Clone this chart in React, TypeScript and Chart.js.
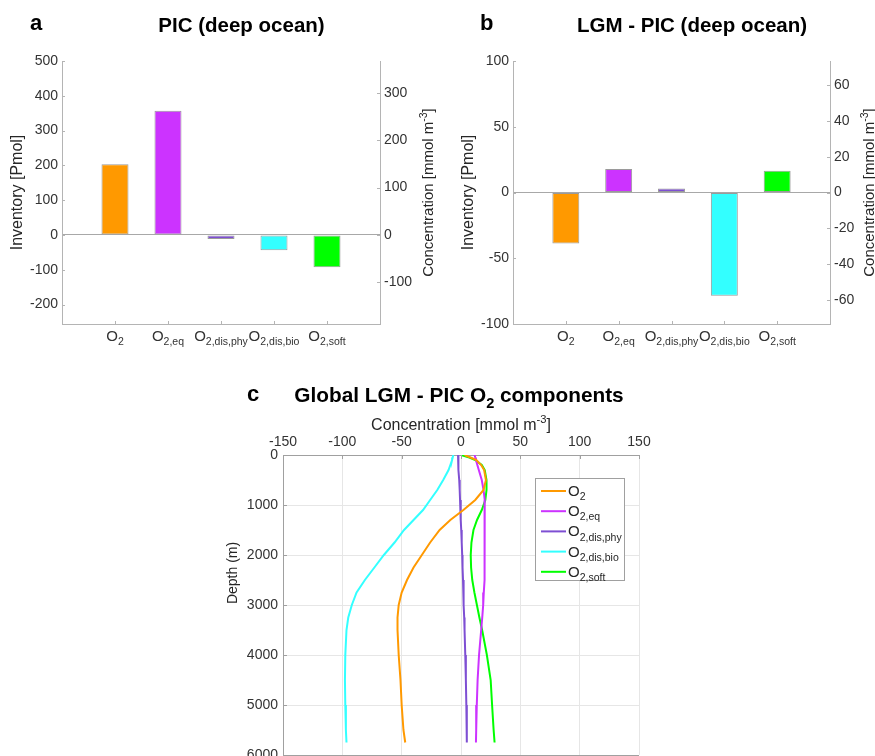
import React, { useEffect, useRef } from 'react';
import { Chart, registerables } from 'chart.js';

Chart.register(...registerables);

const FONT = '"Liberation Sans", Arial, Helvetica, sans-serif';
const TEXT = '#262626';
const TICK_TEXT = '#333333';
const AXIS = '#b4b4b4';
const GRID = '#e6e6e6';
const BOX = '#a0a0a0';

// ---------- Panels a & b : deep-ocean O2 components ----------
const componentNames = ['O2', 'O2,eq', 'O2,dis,phy', 'O2,dis,bio', 'O2,soft'];
const componentSubscripts = ['2', '2,eq', '2,dis,phy', '2,dis,bio', '2,soft'];
const componentColors = ['#FF9900', '#CC33FF', '#7E4FD3', '#33FFFF', '#00FF00'];
const picInventory = [203, 357, -12, -44, -93]; // Pmol
const lgmMinusPicInventory = [-38.8, 17.8, 3.0, -78.5, 16.5]; // Pmol
const pmolPerConcentration = 1.363; // Pmol per mmol m-3 (deep ocean volume)
const picInventoryLimits = [-256, 500];
const lgmInventoryLimits = [-100, 100];
const picTickSteps = [100, 100]; // inventory, concentration
const lgmTickSteps = [50, 20];

// ---------- Panel c : global LGM - PIC O2 component profiles ----------
const depthLevels = [0, 50, 100, 200, 300, 500, 700, 900, 1100, 1300, 1500, 1750, 2000, 2250, 2500, 2750, 3000, 3250, 3500, 4000, 4500, 5000, 5500, 5750];
const o2Total = [3, 8, 13, 17, 19.5, 21, 19, 12, 2, -9, -18, -26, -33, -40, -45.5, -50, -52.5, -53.5, -53.5, -52.5, -51, -50, -48.5, -47];
const o2Eq = [11.5, 12, 12.6, 13.8, 15, 17.5, 19, 20, 20, 20, 20, 20, 19.8, 19.7, 19.5, 19.2, 18.7, 17.9, 17, 15.2, 14, 13.3, 12.8, 12.6];
const o2DisPhy = [-2.5, -2.4, -2.3, -2.1, -1.9, -1.5, -1.1, -0.8, -0.4, -0.1, 0.2, 0.6, 1.0, 1.3, 1.7, 2.0, 2.4, 2.7, 3.0, 3.6, 4.1, 4.5, 4.8, 5.0];
const o2DisBio = [-6.5, -7, -7.5, -9, -10.5, -15, -20, -26, -32, -40, -48, -56, -65, -73, -81, -88, -92, -95, -96.5, -97.5, -97.8, -97.5, -97, -96.5];
const o2Soft = [0, 7, 12, 17.5, 20, 21.5, 21.5, 20.5, 17.5, 13.5, 10.5, 8.8, 8.2, 8.5, 9.5, 11.3, 13.4, 15.5, 17.8, 21.8, 25, 26.2, 27.5, 28.3];
const concentrationLimits = [-150, 150];
const concentrationStep = 50;
const depthLimits = [0, 6000];
const depthStep = 1000;

type Seg = { t: string; k?: 'sub' | 'sup' };
type RichOpts = { weight?: string; color?: string; align?: 'left' | 'center' | 'right'; rotate?: number };

function segSize(size: number, s: Seg) {
  return s.k ? size * 0.7 : size;
}

function drawRich(ctx: CanvasRenderingContext2D, segs: Seg[], x: number, y: number, size: number, o: RichOpts = {}) {
  const weight = o.weight || 'normal';
  ctx.save();
  ctx.translate(x, y);
  if (o.rotate) ctx.rotate(o.rotate);
  let w = 0;
  for (const s of segs) {
    ctx.font = `${weight} ${segSize(size, s)}px ${FONT}`;
    w += ctx.measureText(s.t).width;
  }
  let cx = o.align === 'center' ? -w / 2 : o.align === 'right' ? -w : 0;
  ctx.fillStyle = o.color || TEXT;
  ctx.textAlign = 'left';
  ctx.textBaseline = 'alphabetic';
  for (const s of segs) {
    ctx.font = `${weight} ${segSize(size, s)}px ${FONT}`;
    const dy = s.k === 'sub' ? size * 0.28 : s.k === 'sup' ? -size * 0.42 : 0;
    ctx.fillText(s.t, cx, dy);
    cx += ctx.measureText(s.t).width;
  }
  ctx.restore();
}

const concTitle: Seg[] = [{ t: 'Concentration [mmol m' }, { t: '-3', k: 'sup' }, { t: ']' }];

type BarLayout = {
  letter: string;
  letterX: number;
  title: string;
  titleX: number;
  leftTitleX: number;
  rightTitleX: number;
  leftWidth: number;
  rightWidth: number;
};

function barConfig(values: number[], limits: number[], steps: number[], lay: BarLayout): any {
  const labels = ['', ...componentNames, ''];
  const tickFont = { family: FONT, size: 14 };
  return {
    type: 'bar',
    data: {
      labels,
      datasets: [
        {
          data: [null, ...values, null],
          backgroundColor: ['rgba(0,0,0,0)', ...componentColors, 'rgba(0,0,0,0)'],
          borderColor: '#9a9a9a',
          borderWidth: 1,
          borderSkipped: false,
          categoryPercentage: 1,
          barPercentage: 0.51,
        },
      ],
    },
    options: {
      responsive: false,
      animation: false,
      layout: { padding: { left: 0, right: 0, top: 61, bottom: 46 } },
      plugins: { legend: { display: false }, tooltip: { enabled: false } },
      scales: {
        x: {
          type: 'category',
          offset: false,
          ticks: { display: false },
          grid: { display: false, drawTicks: false },
          border: { display: true, color: AXIS },
          afterFit: (s: any) => {
            s.height = 0;
          },
        },
        y: {
          position: 'left',
          min: limits[0],
          max: limits[1],
          ticks: { stepSize: steps[0], includeBounds: false, font: tickFont, color: TICK_TEXT, padding: 4, callback: (v: any) => String(v) },
          grid: {
            drawTicks: false,
            color: (c: any) => (c.tick && c.tick.value === 0 ? '#a8a8a8' : 'rgba(0,0,0,0)'),
          },
          border: { display: true, color: AXIS },
          afterFit: (s: any) => {
            s.width = lay.leftWidth;
          },
        },
        y2: {
          position: 'right',
          min: limits[0] / pmolPerConcentration,
          max: limits[1] / pmolPerConcentration,
          ticks: { stepSize: steps[1], includeBounds: false, font: tickFont, color: TICK_TEXT, padding: 4, callback: (v: any) => String(v) },
          grid: { display: false, drawTicks: false },
          border: { display: true, color: AXIS },
          afterFit: (s: any) => {
            s.width = lay.rightWidth;
          },
        },
      },
    },
    plugins: [
      {
        id: 'barOverlay',
        afterDraw(chart: any) {
          const ctx: CanvasRenderingContext2D = chart.ctx;
          const { left, right, top, bottom } = chart.chartArea;
          const xs = chart.scales.x;
          const yl = chart.scales.y;
          const yr = chart.scales.y2;
          ctx.save();
          ctx.strokeStyle = AXIS;
          ctx.lineWidth = 1;
          ctx.beginPath();
          componentNames.forEach((_, i) => {
            const px = Math.round(xs.getPixelForValue(i + 1)) + 0.5;
            ctx.moveTo(px, bottom);
            ctx.lineTo(px, bottom - 3);
          });
          yl.ticks.forEach((t: any) => {
            const py = Math.round(yl.getPixelForValue(t.value)) + 0.5;
            ctx.moveTo(left, py);
            ctx.lineTo(left + 3, py);
          });
          yr.ticks.forEach((t: any) => {
            const py = Math.round(yr.getPixelForValue(t.value)) + 0.5;
            ctx.moveTo(right, py);
            ctx.lineTo(right - 3, py);
          });
          ctx.stroke();
          ctx.restore();

          componentSubscripts.forEach((sub, i) => {
            drawRich(ctx, [{ t: 'O' }, { t: sub, k: 'sub' }], xs.getPixelForValue(i + 1), bottom + 17, 15, { align: 'center', color: TICK_TEXT });
          });
          drawRich(ctx, [{ t: lay.letter }], lay.letterX, 30, 22, { weight: 'bold', color: '#000' });
          drawRich(ctx, [{ t: lay.title }], lay.titleX, 31.5, 20.5, { weight: 'bold', color: '#000', align: 'center' });
          const midY = (top + bottom) / 2;
          drawRich(ctx, [{ t: 'Inventory [Pmol]' }], lay.leftTitleX, midY, 16, { align: 'center', rotate: -Math.PI / 2 });
          drawRich(ctx, concTitle, lay.rightTitleX, midY, 15, { align: 'center', rotate: -Math.PI / 2 });
        },
      },
    ],
  };
}

function profileConfig(): any {
  const series = [o2Total, o2Eq, o2DisPhy, o2DisBio, o2Soft];
  const tickFont = { family: FONT, size: 14 };
  return {
    type: 'scatter',
    data: {
      datasets: series.map((vals, i) => ({
        label: componentNames[i],
        data: vals.map((v, j) => ({ x: v, y: depthLevels[j] })),
        showLine: true,
        borderColor: componentColors[i],
        backgroundColor: componentColors[i],
        borderWidth: 2,
        pointRadius: 0,
        tension: 0,
        fill: false,
      })),
    },
    options: {
      responsive: false,
      animation: false,
      layout: { padding: { left: 0, right: 16, top: 45, bottom: 45 } },
      plugins: { legend: { display: false }, tooltip: { enabled: false } },
      scales: {
        x: {
          type: 'linear',
          position: 'top',
          min: concentrationLimits[0],
          max: concentrationLimits[1],
          ticks: { stepSize: concentrationStep, font: tickFont, color: TICK_TEXT, padding: 4, callback: (v: any) => String(v) },
          grid: { drawTicks: false, color: (c: any) => (c.index === 0 ? BOX : GRID) },
          border: { display: true, color: BOX },
          afterFit: (s: any) => {
            s.height = 30;
          },
        },
        y: {
          type: 'linear',
          reverse: true,
          min: depthLimits[0],
          max: depthLimits[1],
          ticks: { stepSize: depthStep, font: tickFont, color: TICK_TEXT, padding: 5, callback: (v: any) => String(v) },
          grid: { drawTicks: false, color: (c: any) => (c.index === 0 ? BOX : GRID) },
          border: { display: true, color: BOX },
          afterFit: (s: any) => {
            s.width = 93;
          },
        },
      },
    },
    plugins: [
      {
        id: 'profileOverlay',
        afterDraw(chart: any) {
          const ctx: CanvasRenderingContext2D = chart.ctx;
          const { left, right, top } = chart.chartArea;
          const xs = chart.scales.x;
          const ys = chart.scales.y;
          ctx.save();
          ctx.strokeStyle = BOX;
          ctx.lineWidth = 1;
          ctx.beginPath();
          xs.ticks.forEach((t: any) => {
            const px = Math.round(xs.getPixelForValue(t.value)) + 0.5;
            ctx.moveTo(px, top);
            ctx.lineTo(px, top + 4);
          });
          ys.ticks.forEach((t: any) => {
            const py = Math.round(ys.getPixelForValue(t.value)) + 0.5;
            ctx.moveTo(left, py);
            ctx.lineTo(left + 4, py);
          });
          ctx.stroke();
          ctx.restore();

          drawRich(ctx, [{ t: 'c' }], 57, 21, 22, { weight: 'bold', color: '#000' });
          drawRich(ctx, [{ t: 'Global LGM - PIC O' }, { t: '2', k: 'sub' }, { t: ' components' }], 269, 22, 20.8, {
            weight: 'bold',
            color: '#000',
            align: 'center',
          });
          drawRich(ctx, concTitle, (left + right) / 2, 49.5, 16, { align: 'center' });
          drawRich(ctx, [{ t: 'Depth (m)' }], 47, 193, 14, { align: 'center', rotate: -Math.PI / 2 });

          // legend
          const bw = 89;
          const bh = 102;
          const bx = Math.round(right - 15 - bw);
          const by = Math.round(top + 23);
          ctx.save();
          ctx.fillStyle = '#ffffff';
          ctx.fillRect(bx, by, bw, bh);
          ctx.strokeStyle = BOX;
          ctx.lineWidth = 1;
          ctx.strokeRect(bx + 0.5, by + 0.5, bw, bh);
          componentSubscripts.forEach((sub, i) => {
            const cy = by + 13 + i * 20.2;
            ctx.strokeStyle = componentColors[i];
            ctx.lineWidth = 2;
            ctx.beginPath();
            ctx.moveTo(bx + 6, cy);
            ctx.lineTo(bx + 31, cy);
            ctx.stroke();
            drawRich(ctx, [{ t: 'O' }, { t: sub, k: 'sub' }], bx + 33, cy + 5, 15, { color: TEXT });
          });
          ctx.restore();
        },
      },
    ],
  };
}

function ChartCanvas(props: { make: () => any; left: number; top: number; width: number; height: number }) {
  const ref = useRef<HTMLCanvasElement>(null);
  useEffect(() => {
    const chart = new Chart(ref.current as HTMLCanvasElement, props.make());
    return () => chart.destroy();
  }, []);
  return (
    <canvas
      ref={ref}
      width={props.width}
      height={props.height}
      style={{ position: 'absolute', left: props.left, top: props.top, width: props.width, height: props.height }}
    />
  );
}

export default function App() {
  return (
    <div style={{ position: 'absolute', left: 0, top: 0, width: 875, height: 756, overflow: 'hidden', background: '#ffffff' }}>
      <ChartCanvas
        left={0}
        top={0}
        width={440}
        height={370}
        make={() =>
          barConfig(picInventory, picInventoryLimits, picTickSteps, {
            letter: 'a',
            letterX: 30,
            title: 'PIC (deep ocean)',
            titleX: 241.5,
            leftTitleX: 22,
            rightTitleX: 433,
            leftWidth: 62,
            rightWidth: 60,
          })
        }
      />
      <ChartCanvas
        left={440}
        top={0}
        width={435}
        height={370}
        make={() =>
          barConfig(lgmMinusPicInventory, lgmInventoryLimits, lgmTickSteps, {
            letter: 'b',
            letterX: 40,
            title: 'LGM - PIC (deep ocean)',
            titleX: 252,
            leftTitleX: 33,
            rightTitleX: 434,
            leftWidth: 73,
            rightWidth: 45,
          })
        }
      />
      <ChartCanvas left={190} top={380} width={465} height={420} make={profileConfig} />
    </div>
  );
}
